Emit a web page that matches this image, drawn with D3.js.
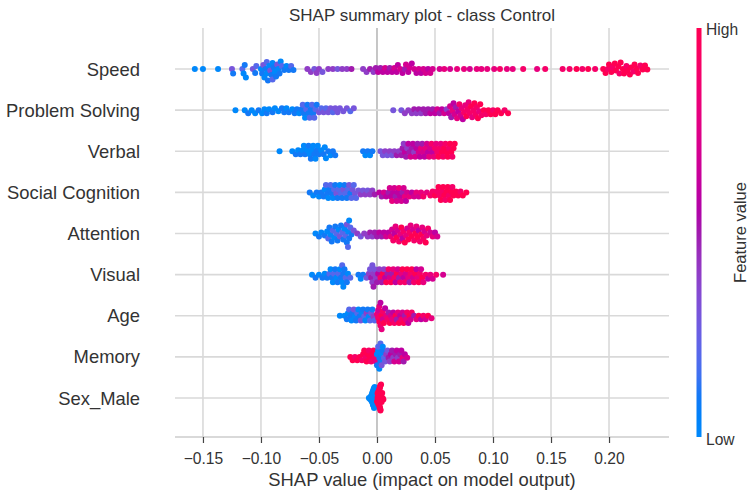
<!DOCTYPE html>
<meta charset="utf-8">
<script src="https://d3js.org/d3.v7.min.js"></script>
<style>
  body { margin: 0; background: #fff; }
  text { font-family: "Liberation Sans", Arial, sans-serif; fill: #333; }
</style>
<div id="chart"></div>
<script>

// features, top to bottom
var features = ["Speed", "Problem Solving", "Verbal", "Social Cognition", "Attention",
                "Visual", "Age", "Memory", "Sex_Male"];

// SHAP values in thousandths, feature value on a 0-10 scale (low -> high)
var speedShap = [
  -157,-150,-137,-125,-124,-116,-115,-114,-113,-107,
  -105,-104,-100,-99,-98,-97,-96,-95,-95,-94,
  -93,-92,-91,-90,-90,-89,-88,-87,-86,-85,
  -84,-83,-82,-80,-78,-76,-74,-72,-60,-57,
  -54,-52,-50,-47,-42,-38,-34,-30,-26,-22,
  -12,-9,-6,-3,-1,1,3,5,7,9,
  11,13,15,17,18,20,22,24,25,27,
  28,30,32,34,36,38,40,42,44,46,
  48,54,58,63,69,75,80,86,90,95,
  101,106,112,117,126,138,145,160,166,172,
  177,182,188,195,197,199,200,202,203,205,
  206,208,209,210,212,213,215,216,218,219,
  221,222,224,225,227,229,231,233];
var speedFeat = [
  0,0,0,3,1,2,0,1,0,3,
  1,2,0,1,3,0,1,0,2,1,
  0,3,1,0,2,1,0,1,3,0,
  1,0,2,1,0,1,2,1,4,4,
  3,4,4,3,4,4,3,4,4,5,
  4,4,5,4,5,6,5,6,7,6,
  5,6,7,6,6,7,6,5,7,6,
  7,6,7,6,7,6,7,7,6,7,
  7,7,8,7,8,8,7,8,8,8,
  8,9,8,8,9,8,9,9,9,10,
  9,10,9,10,10,9,10,10,9,10,
  10,10,9,10,10,10,9,10,10,10,
  9,10,10,10,9,10,10,10];

var problemShap = [
  -122,-114,-111,-108,-105,-102,-99,-97,-95,-93,
  -90,-88,-85,-82,-80,-78,-76,-73,-71,-69,
  -67,-65,-64,-63,-62,-61,-60,-59,-58,-57,
  -56,-55,-54,-53,-52,-50,-48,-46,-44,-42,
  -40,-38,-36,-34,-32,-29,-26,-23,-20,14,
  21,24,27,30,32,34,36,38,40,42,
  44,46,48,50,52,54,56,58,60,62,
  63,64,65,66,67,68,69,70,71,72,
  73,74,75,76,77,78,79,80,81,82,
  83,84,85,86,87,88,89,90,92,94,
  96,98,100,102,104,107,110,113];
var problemFeat = [
  0,0,1,0,0,1,0,0,1,0,
  1,0,0,1,1,0,1,0,1,1,
  0,1,2,1,0,2,1,1,2,1,
  2,1,2,2,1,3,2,3,2,3,
  3,2,3,3,3,3,3,2,3,3,
  3,4,4,4,5,4,5,4,5,5,
  5,6,5,6,7,5,6,7,4,6,
  7,5,8,6,7,5,8,6,9,7,
  8,6,9,8,10,9,8,9,10,8,
  9,10,9,9,10,8,10,9,10,9,
  10,10,9,10,10,10,9,10];

var verbalShap = [
  -84,-73,-70,-68,-66,-64,-63,-62,-60,-59,
  -58,-57,-56,-55,-54,-53,-52,-51,-50,-48,
  -46,-45,-44,-42,-40,-38,-36,-12,-10,-8,
  -6,-4,3,5,7,9,11,13,15,17,
  19,21,22,23,24,25,26,27,28,29,
  30,31,32,33,34,35,36,37,38,39,
  40,41,42,43,44,45,46,47,48,49,
  50,51,52,53,54,55,56,57,58,59,
  60,61,62,63,64,65,66,67];
var verbalFeat = [
  0,0,1,0,1,0,0,1,0,1,
  0,1,0,0,1,0,1,0,1,0,
  1,0,0,1,0,1,1,1,0,1,
  0,1,3,3,4,3,4,3,4,5,
  4,5,5,4,6,5,4,6,5,7,
  5,6,4,7,6,5,7,6,8,5,
  7,6,8,7,6,8,7,9,6,8,
  9,8,9,10,9,8,10,9,10,9,
  10,10,9,10,10,9,10,10];

var socialShap = [
  -58,-55,-52,-50,-48,-46,-45,-44,-43,-42,
  -41,-40,-39,-38,-37,-36,-35,-34,-33,-32,
  -31,-30,-29,-28,-27,-26,-25,-24,-23,-22,
  -21,-20,-19,-18,-16,-14,-12,-10,-8,-6,
  -4,-2,2,4,6,8,10,11,12,13,
  14,15,16,17,18,19,20,21,22,23,
  24,25,26,28,30,32,34,36,38,40,
  43,46,48,50,52,53,54,55,56,57,
  58,59,60,61,62,63,64,65,66,68,
  70,72,74,77];
var socialFeat = [
  1,0,1,0,1,1,0,2,1,0,
  1,2,1,0,2,1,3,1,2,0,
  2,1,3,1,2,1,2,3,1,2,
  3,2,3,2,3,4,3,4,3,4,
  4,5,6,5,7,6,5,7,6,8,
  6,7,5,7,6,8,6,7,5,7,
  8,6,7,8,6,7,8,7,8,9,
  8,9,9,10,9,10,9,10,9,10,
  10,9,10,10,9,10,10,9,10,10,
  10,9,10,10];

var attentionShap = [
  -53,-50,-48,-45,-43,-42,-41,-40,-39,-38,
  -37,-36,-35,-34,-33,-32,-31,-30,-29,-28,
  -27,-26,-26,-25,-25,-24,-24,-23,-22,-20,
  -17,-14,-11,-8,-6,-4,-2,0,2,4,
  6,8,10,12,13,14,15,16,17,18,
  19,20,21,22,23,24,25,26,27,28,
  29,30,31,32,33,34,35,36,37,38,
  39,40,41,42,43,44,46,48,50,52];
var attentionFeat = [
  0,1,0,1,0,2,1,0,1,2,
  0,1,2,1,0,3,1,2,1,0,
  2,1,3,0,2,1,0,2,1,3,
  4,3,4,4,5,4,5,5,6,5,
  6,7,6,8,7,9,6,8,10,7,
  9,8,10,6,9,10,8,7,10,9,
  8,10,7,9,10,8,10,6,9,10,
  8,9,7,10,8,9,7,8,6,7];

var visualShap = [
  -56,-53,-50,-47,-45,-43,-41,-40,-39,-38,
  -37,-36,-35,-34,-33,-32,-31,-30,-30,-29,
  -29,-28,-27,-26,-25,-23,-16,-14,-12,-9,
  -7,-6,-5,-4,-4,-3,-3,-2,-1,0,
  1,2,3,4,5,6,7,8,9,10,
  11,12,13,14,15,16,17,18,19,20,
  21,22,23,24,25,26,27,28,29,30,
  31,32,33,34,35,36,37,38,39,40,
  42,44,46,48,51,57];
var visualFeat = [
  0,1,0,1,0,1,2,0,1,0,
  2,1,0,1,2,0,1,0,2,1,
  0,1,2,1,0,2,1,0,1,3,
  4,3,5,4,3,4,5,3,4,5,
  6,4,9,5,10,4,6,10,5,9,
  7,10,5,8,9,6,10,7,5,9,
  8,10,6,9,7,10,8,5,9,10,
  7,9,10,6,8,10,9,7,10,8,
  9,6,8,7,9,7];

var ageShap = [
  -32,-28,-26,-25,-24,-23,-22,-21,-20,-19,
  -18,-17,-16,-15,-14,-13,-12,-11,-10,-9,
  -8,-7,-6,-5,-4,-3,-2,0,1,1,
  2,2,3,3,4,4,5,5,6,7,
  8,9,10,11,12,13,14,15,16,17,
  18,19,20,21,22,23,24,25,26,27,
  28,29,30,32,34,36,38,40,42,44,
  47];
var ageFeat = [
  0,0,1,0,2,1,0,1,3,0,
  1,2,0,1,3,0,1,2,0,4,
  1,0,2,3,1,4,2,8,9,7,
  10,8,9,6,10,8,7,9,10,6,
  8,9,5,10,7,8,6,9,10,5,
  8,10,6,9,7,10,5,8,9,6,
  10,7,9,5,8,10,6,9,7,10,
  8];

var memoryShap = [
  -23,-21,-19,-17,-15,-13,-12,-11,-10,-9,
  -8,-7,-6,-5,-4,-3,-2,-1,0,0,
  1,1,2,2,3,3,4,4,5,5,
  6,7,8,9,10,11,12,13,14,15,
  16,17,18,19,20,21,22,23,24,26];
var memoryFeat = [
  10,10,9,10,10,9,10,10,9,10,
  10,9,10,9,10,10,9,8,0,1,
  0,2,1,0,1,2,0,3,1,0,
  2,3,4,3,5,4,6,5,4,7,
  5,6,4,7,5,6,8,5,6,7];

var sexShap = [
  -7,-6,-5.5,-5,-5,-4.5,-4.5,-4,-4,-4,
  -3.5,-3.5,-3.5,-3,-3,-3,-3,-2.5,-2.5,-2.5,
  -2,-2,-2,-1.5,-1.5,-1,0,0.5,0.5,1,
  1,1,1.5,1.5,1.5,1.5,2,2,2,2,
  2,2.5,2.5,2.5,2.5,3,3,3,3,3.5,
  3.5,4,4,4.5,5,5.5];
var sexFeat = [
  0,0,0,0,0,0,0,0,0,0,
  0,0,0,0,0,0,0,0,0,0,
  0,0,0,0,0,0,10,10,10,10,
  10,10,10,10,10,10,10,10,10,10,
  10,10,10,10,10,10,10,10,10,10,
  10,10,10,10,10,10];

var shapCols = [speedShap, problemShap, verbalShap, socialShap, attentionShap,
                visualShap, ageShap, memoryShap, sexShap];
var featCols = [speedFeat, problemFeat, verbalFeat, socialFeat, attentionFeat,
                visualFeat, ageFeat, memoryFeat, sexFeat];

var xTicks = [-0.15, -0.10, -0.05, 0.00, 0.05, 0.10, 0.15, 0.20];

var width = 750, height = 493;
var plotLeft = 175, plotRight = 669, plotTop = 28, plotBottom = 437;

var svg = d3.select("#chart").append("svg")
  .attr("width", width)
  .attr("height", height);

var x = d3.scaleLinear().domain([-0.1741, 0.2517]).range([plotLeft, plotRight]);
var y = d3.scalePoint().domain(features).range([69, 398]);

// shap red_blue colormap (lch, darker in the middle)
var color = d3.scaleLinear()
  .domain([0, 0.5, 1])
  .range([d3.hcl(266.9, 70, 54), d3.hcl(323.6, 80, 40), d3.hcl(20.3, 90, 54)])
  .interpolate(d3.interpolateHcl)
  .clamp(true);

// grid
svg.append("g").selectAll("line")
  .data(xTicks)
  .enter().append("line")
  .attr("x1", function(d) { return x(d); })
  .attr("x2", function(d) { return x(d); })
  .attr("y1", plotTop)
  .attr("y2", plotBottom)
  .attr("stroke", function(d) { return d === 0 ? "#b8b8b8" : "#d9d9d9"; })
  .attr("stroke-width", 1.6);

svg.append("g").selectAll("line")
  .data(features)
  .enter().append("line")
  .attr("x1", plotLeft)
  .attr("x2", plotRight)
  .attr("y1", function(d) { return y(d); })
  .attr("y2", function(d) { return y(d); })
  .attr("stroke", "#d9d9d9")
  .attr("stroke-width", 1.6);

// bottom axis
svg.append("line")
  .attr("x1", plotLeft).attr("x2", plotRight)
  .attr("y1", plotBottom).attr("y2", plotBottom)
  .attr("stroke", "#cccccc").attr("stroke-width", 1.6);

var xAxis = svg.append("g")
  .attr("transform", "translate(0," + plotBottom + ")")
  .call(d3.axisBottom(x).tickValues(xTicks).tickFormat(d3.format(".2f"))
    .tickSize(6).tickPadding(9.5));
xAxis.select(".domain").remove();
xAxis.selectAll(".tick line").attr("stroke", "#444").attr("stroke-width", 1.2);
xAxis.selectAll(".tick text")
  .style("font-family", "'Liberation Sans', Arial, sans-serif")
  .style("font-size", "15.6px").attr("fill", "#333");

// simple deterministic beeswarm: place points in x order at the nearest free offset
function swarm(px, d, maxOff) {
  var order = d3.range(px.length).sort(function(a, b) { return px[a] - px[b]; });
  var ys = new Array(px.length);
  var placed = [];
  order.forEach(function(i) {
    var k = 0, yy = 0;
    while (true) {
      yy = k === 0 ? 0 : (k % 2 ? 1 : -1) * Math.ceil(k / 2) * 0.5;
      var ok = placed.every(function(j) {
        var dx = px[i] - px[j], dy = yy - ys[j];
        return Math.abs(dx) >= d || dx * dx + dy * dy >= d * d;
      });
      if (ok) break;
      k++;
    }
    ys[i] = yy;
    placed.push(i);
  });
  var m = d3.max(ys, function(v) { return Math.abs(v); });
  if (m > maxOff) ys = ys.map(function(v) { return v * maxOff / m; });
  return ys;
}

var dots = [];
features.forEach(function(f, fi) {
  var px = shapCols[fi].map(function(v) { return x(v / 1000); });
  var off = swarm(px, 4.3, 13.5);
  px.forEach(function(p, i) {
    dots.push({ x: p, y: y(f) + off[i], c: color(featCols[fi][i] / 10) });
  });
});

svg.append("g").selectAll("circle")
  .data(dots)
  .enter().append("circle")
  .attr("cx", function(d) { return d.x; })
  .attr("cy", function(d) { return d.y; })
  .attr("r", 3)
  .attr("fill", function(d) { return d.c; });

// feature labels
svg.append("g").selectAll("text")
  .data(features)
  .enter().append("text")
  .attr("x", 140)
  .attr("y", function(d) { return y(d) + 6.6; })
  .attr("text-anchor", "end")
  .style("font-size", "18.4px")
  .text(function(d) { return d; });

// titles
svg.append("text")
  .attr("x", (plotLeft + plotRight) / 2)
  .attr("y", 20.5)
  .attr("text-anchor", "middle")
  .style("font-size", "17px")
  .text("SHAP summary plot - class Control");

svg.append("text")
  .attr("x", (plotLeft + plotRight) / 2)
  .attr("y", 486)
  .attr("text-anchor", "middle")
  .style("font-size", "18.4px")
  .text("SHAP value (impact on model output)");

// colour bar
var grad = svg.append("defs").append("linearGradient")
  .attr("id", "cbar")
  .attr("x1", 0).attr("y1", 1).attr("x2", 0).attr("y2", 0);
d3.range(0, 1.0001, 0.05).forEach(function(t) {
  grad.append("stop").attr("offset", t).attr("stop-color", color(t));
});

svg.append("rect")
  .attr("x", 696.5).attr("y", plotTop)
  .attr("width", 5).attr("height", plotBottom - plotTop)
  .attr("fill", "url(#cbar)");

svg.append("text").attr("x", 706).attr("y", 35)
  .style("font-size", "15.6px").text("High");
svg.append("text").attr("x", 706).attr("y", 445)
  .style("font-size", "15.6px").text("Low");
svg.append("text")
  .attr("transform", "translate(745.5," + ((plotTop + plotBottom) / 2) + ") rotate(-90)")
  .attr("text-anchor", "middle")
  .style("font-size", "16.5px")
  .text("Feature value");

</script>
